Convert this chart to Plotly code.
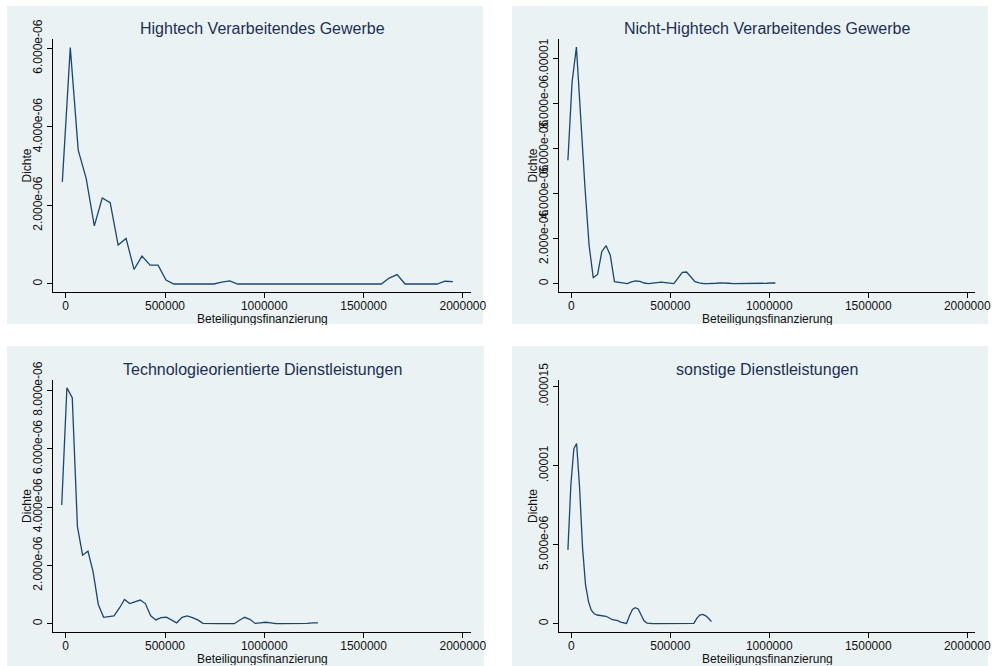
import plotly.graph_objects as go

titles = ["Hightech Verarbeitendes Gewerbe", "Nicht-Hightech Verarbeitendes Gewerbe",
          "Technologieorientierte Dienstleistungen", "sonstige Dienstleistungen"]
x_title = "Beteiligungsfinanzierung"
y_title = "Dichte"

# Panel 1: Hightech Verarbeitendes Gewerbe (x in EUR, density in 1e-6)
x_hvg = [-17000, 23000, 63000, 103000, 144000, 184000, 224000, 264000, 304000, 344000,
         384000, 425000, 465000, 505000, 545000, 585000, 625000, 665000, 706000, 746000,
         786000, 826000, 866000, 906000, 946000, 987000, 1027000, 1067000, 1107000, 1147000,
         1187000, 1228000, 1268000, 1308000, 1348000, 1388000, 1428000, 1468000, 1509000, 1549000,
         1589000, 1629000, 1669000, 1709000, 1749000, 1790000, 1830000, 1870000, 1910000, 1950000]
y_hvg = [2.60, 6.02, 3.41, 2.69, 1.48, 2.19, 2.07, 0.99, 1.16, 0.37,
         0.71, 0.48, 0.48, 0.10, 0.0, 0.0, 0.0, 0.0, 0.0, 0.0,
         0.05, 0.08, 0.0, 0.0, 0.0, 0.0, 0.0, 0.0, 0.0, 0.0,
         0.0, 0.0, 0.0, 0.0, 0.0, 0.0, 0.0, 0.0, 0.0, 0.0,
         0.0, 0.15, 0.24, 0.0, 0.0, 0.0, 0.0, 0.0, 0.07, 0.06]

# Panel 2: Nicht-Hightech Verarbeitendes Gewerbe
x_nhvg = [-17000, 4000, 26000, 47000, 69000, 90000, 111000, 133000, 154000, 176000,
          197000, 218000, 240000, 261000, 283000, 304000, 325000, 347000, 368000, 390000,
          411000, 432000, 454000, 475000, 497000, 518000, 539000, 561000, 582000, 604000,
          625000, 646000, 668000, 689000, 711000, 732000, 753000, 775000, 796000, 818000,
          839000, 860000, 882000, 903000, 925000, 946000, 967000, 989000, 1010000, 1031000]
y_nhvg = [5.49, 8.96, 10.52, 7.2, 4.3, 1.7, 0.27, 0.41, 1.42, 1.69,
          1.27, 0.09, 0.07, 0.04, 0.0, 0.08, 0.12, 0.10, 0.03, 0.0,
          0.02, 0.05, 0.07, 0.05, 0.01, 0.0, 0.25, 0.50, 0.52, 0.30,
          0.09, 0.04, 0.0, 0.0, 0.0, 0.02, 0.04, 0.04, 0.02, 0.0,
          0.0, 0.0, 0.0, 0.0, 0.0, 0.0, 0.0, 0.02, 0.04, 0.03]

# Panel 3: Technologieorientierte Dienstleistungen
x_tod = [-20000, 6000, 33000, 59000, 85000, 112000, 138000, 164000, 191000, 217000,
         243000, 270000, 296000, 322000, 349000, 375000, 401000, 428000, 454000, 480000,
         507000, 533000, 559000, 586000, 612000, 638000, 665000, 691000, 717000, 744000,
         770000, 796000, 822000, 849000, 875000, 901000, 927000, 954000, 980000, 1006000,
         1033000, 1059000, 1085000, 1112000, 1138000, 1164000, 1191000, 1217000, 1243000, 1270000]
y_tod = [4.07, 8.09, 7.75, 3.33, 2.35, 2.49, 1.78, 0.66, 0.22, 0.24,
         0.27, 0.53, 0.83, 0.69, 0.75, 0.81, 0.69, 0.27, 0.13, 0.21,
         0.22, 0.13, 0.03, 0.22, 0.27, 0.21, 0.13, 0.01, 0.0, 0.0,
         0.0, 0.0, 0.0, 0.0, 0.12, 0.22, 0.15, 0.01, 0.03, 0.05,
         0.03, 0.0, 0.0, 0.0, 0.0, 0.0, 0.0, 0.01, 0.03, 0.03]

# Panel 4: sonstige Dienstleistungen
x_sd = [-17000, -2000, 13000, 27000, 42000, 57000, 72000, 87000, 101000, 116000,
        131000, 146000, 161000, 175000, 190000, 205000, 220000, 235000, 249000, 264000,
        279000, 294000, 309000, 323000, 338000, 353000, 368000, 383000, 397000, 412000,
        427000, 442000, 457000, 471000, 486000, 501000, 516000, 531000, 545000, 560000,
        575000, 590000, 605000, 619000, 634000, 649000, 664000, 679000, 693000, 708000]
y_sd = [4.67, 8.8, 11.08, 11.4, 8.6, 4.8, 2.45, 1.4, 0.85, 0.63,
        0.55, 0.53, 0.50, 0.47, 0.38, 0.27, 0.23, 0.19, 0.10, 0.04,
        0.02, 0.50, 0.90, 1.01, 0.93, 0.55, 0.17, 0.04, 0.0, 0.0,
        0.0, 0.0, 0.0, 0.0, 0.0, 0.0, 0.0, 0.0, 0.0, 0.0,
        0.0, 0.0, 0.0, 0.02, 0.34, 0.55, 0.59, 0.50, 0.34, 0.13]

x_ticks = [0, 500000, 1000000, 1500000, 2000000]
x_ticklabels = ["0", "500000", "1000000", "1500000", "2000000"]
y_ticks = [
    [0, 2e-6, 4e-6, 6e-6],
    [0, 2e-6, 4e-6, 6e-6, 8e-6, 1e-5],
    [0, 2e-6, 4e-6, 6e-6, 8e-6],
    [0, 5e-6, 1e-5, 1.5e-5],
]
y_ticklabels = [
    ["0", "2.000e-06", "4.000e-06", "6.000e-06"],
    ["0", "2.000e-06", "4.000e-06", "6.000e-06", "8.000e-06", ".00001"],
    ["0", "2.000e-06", "4.000e-06", "6.000e-06", "8.000e-06"],
    ["0", "5.000e-06", ".00001", ".000015"],
]

W, H = 992, 666
LINE = "#1A476F"
BG = "#EAF2F3"
TITLE_C = "#1C2F55"
FONT = "Liberation Sans, Arial, sans-serif"

# plot-area pixel boxes (x0, x1, y0_top, y1_bottom)
boxes = [(53, 471, 39, 292), (559, 975, 39, 292), (53, 471, 380, 632), (559, 975, 380, 632)]
bg_boxes = [(7, 483, 6, 324), (512, 988, 6, 324), (7, 484, 346, 666), (512, 988, 346, 666)]
x_ranges = [[-64000, 2041000], [-62000, 2039000], [-64000, 2041000], [-62000, 2039000]]
y_ranges = [[-0.204e-6, 6.24e-6], [-0.37e-6, 10.88e-6], [-0.285e-6, 8.36e-6], [-0.525e-6, 15.42e-6]]

xs = [x_hvg, x_nhvg, x_tod, x_sd]
ys = [y_hvg, y_nhvg, y_tod, y_sd]

fig = go.Figure()
layout = dict(
    width=W, height=H, autosize=False,
    margin=dict(l=0, r=0, t=0, b=0, pad=0, autoexpand=False),
    paper_bgcolor="white", plot_bgcolor="white",
    showlegend=False,
    font=dict(family=FONT, size=12, color="#111111"),
)
shapes = []
annotations = []
for i in range(4):
    sfx = "" if i == 0 else str(i + 1)
    x0, x1, yt, yb = boxes[i]
    fig.add_trace(go.Scatter(
        x=xs[i], y=[v * 1e-6 for v in ys[i]], mode="lines",
        line=dict(color=LINE, width=1.3),
        xaxis="x" + sfx, yaxis="y" + sfx, hoverinfo="skip"))
    layout["xaxis" + sfx] = dict(
        domain=[x0 / W, x1 / W], anchor="y" + sfx, range=x_ranges[i],
        tickvals=x_ticks, ticktext=x_ticklabels, ticks="outside", ticklen=5,
        ticklabelstandoff=-3,
        tickcolor="black", showline=True, linecolor="black", linewidth=1.2,
        showgrid=False, zeroline=False, automargin=False,
        tickfont=dict(size=12, color="#111111"))
    layout["yaxis" + sfx] = dict(
        domain=[1 - yb / H, 1 - yt / H], anchor="x" + sfx, range=y_ranges[i],
        tickvals=y_ticks[i], ticktext=y_ticklabels[i], ticks="outside", ticklen=5,
        tickcolor="black", showline=True, linecolor="black", linewidth=1.2,
        showgrid=True, gridcolor=BG, gridwidth=1, zeroline=False, tickangle=-90,
        automargin=False, tickfont=dict(size=12, color="#111111"))
    bx0, bx1, by0, by1 = bg_boxes[i]
    shapes.append(dict(type="rect", xref="paper", yref="paper",
                       x0=bx0 / W, x1=bx1 / W, y0=1 - by1 / H, y1=1 - by0 / H,
                       fillcolor=BG, line=dict(width=0), layer="below"))
    cx = (x0 + x1) / 2
    annotations.append(dict(text=titles[i], xref="paper", yref="paper",
                            x=cx / W, y=1 - (yt - 11) / H, xanchor="center", yanchor="middle",
                            showarrow=False, font=dict(size=16, color=TITLE_C, family=FONT)))
    annotations.append(dict(text=x_title, xref="paper", yref="paper",
                            x=cx / W, y=1 - (yb + 27) / H, xanchor="center", yanchor="middle",
                            height=12, borderpad=0,
                            showarrow=False, font=dict(size=12, color="#111111", family=FONT)))
    annotations.append(dict(text=y_title, xref="paper", yref="paper",
                            x=(x0 - 26) / W, y=1 - ((yt + yb) / 2) / H, xanchor="center",
                            yanchor="middle", textangle=-90,
                            showarrow=False, font=dict(size=12, color="#111111", family=FONT)))

layout["shapes"] = shapes
layout["annotations"] = annotations
fig.update_layout(**layout)
fig.write_html("out.html", config={"displayModeBar": False},
               post_script="document.body.style.margin='0';document.body.style.overflow='hidden';")
